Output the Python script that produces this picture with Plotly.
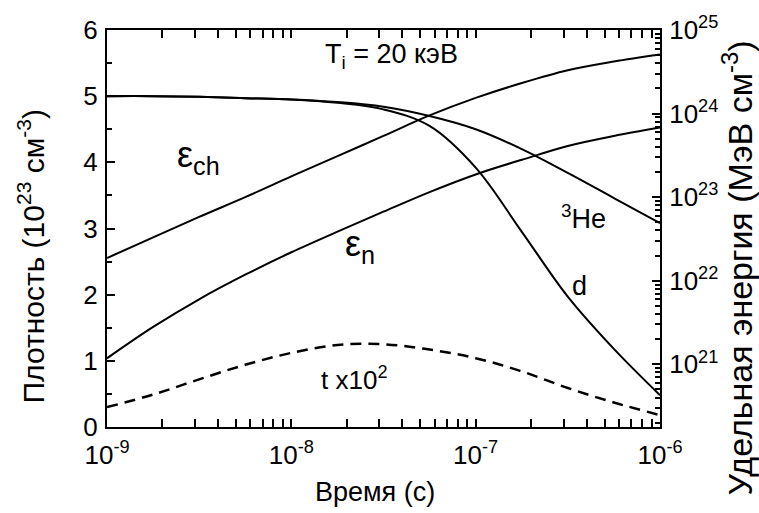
import plotly.graph_objects as go

# Time grid (s), quarter-decade steps
time_s = [1e-9, 1.78e-9, 3.16e-9, 5.62e-9, 1e-8, 1.78e-8, 3.16e-8,
          5.62e-8, 1e-7, 1.78e-7, 3.16e-7, 5.62e-7, 1e-6]

# Densities (10^23 cm^-3)
dens_d = [5.0, 5.0, 4.99, 4.97, 4.95, 4.90, 4.80, 4.55, 3.92, 2.95, 1.97, 1.18, 0.48]
dens_he3 = [5.0, 5.0, 4.99, 4.97, 4.95, 4.91, 4.84, 4.70, 4.50, 4.20, 3.84, 3.46, 3.08]
dens_t_x100 = [0.30, 0.49, 0.72, 0.94, 1.12, 1.24, 1.25, 1.17, 1.04, 0.84, 0.59, 0.37, 0.18]

# Specific energy (MeV cm^-3)
energy_ch = [1.87e22, 3.3e22, 5.8e22, 1.0e23, 1.77e23, 3.1e23, 5.4e23,
             9.5e23, 1.54e24, 2.32e24, 3.3e24, 4.2e24, 5.1e24]
energy_n = [1.18e21, 2.8e21, 6.0e21, 1.18e22, 2.19e22, 3.87e22, 6.7e22,
            1.15e23, 1.87e23, 2.8e23, 4.1e23, 5.4e23, 6.8e23]

x_ticks = [1e-9, 1e-8, 1e-7, 1e-6]
x_ticktext = ["10<sup>-9</sup>", "10<sup>-8</sup>", "10<sup>-7</sup>", "10<sup>-6</sup>"]
y_ticks = [0, 1, 2, 3, 4, 5, 6]
y2_ticks = [1e21, 1e22, 1e23, 1e24, 1e25]
y2_ticktext = ["10<sup>21</sup>", "10<sup>22</sup>", "10<sup>23</sup>",
               "10<sup>24</sup>", "10<sup>25</sup>"]

FONT = "Liberation Sans, Arial, sans-serif"
TICK_SIZE = 26
line = dict(color="black", width=2, shape="spline", smoothing=1.0)

fig = go.Figure()
fig.add_trace(go.Scatter(x=time_s, y=dens_d, mode="lines", line=line))
fig.add_trace(go.Scatter(x=time_s, y=dens_he3, mode="lines", line=line))
fig.add_trace(go.Scatter(x=time_s, y=dens_t_x100, mode="lines",
                         line=dict(line, width=2.5, dash="11px,7px")))
fig.add_trace(go.Scatter(x=time_s, y=energy_ch, mode="lines", line=line, yaxis="y2"))
fig.add_trace(go.Scatter(x=time_s, y=energy_n, mode="lines", line=line, yaxis="y2"))

minor_x = [m * 10.0 ** e for e in range(-9, -6) for m in range(2, 10)]
minor_y = [v + 0.5 for v in y_ticks[:-1]]
minor_y2 = [m * 10.0 ** e for e in range(20, 25) for m in range(2, 10)]

tick_common = dict(ticks="inside", ticklen=8, tickwidth=1.5, tickcolor="black",
                   showline=True, linewidth=2, linecolor="black",
                   showgrid=False, zeroline=False,
                   tickfont=dict(size=TICK_SIZE))
minor_common = dict(tickmode="array", ticks="inside", ticklen=5, tickwidth=1.5,
                    tickcolor="black", showgrid=False)

fig.update_layout(
    width=759, height=513,
    margin=dict(l=107, r=99, t=23, b=86),
    paper_bgcolor="white", plot_bgcolor="white",
    showlegend=False,
    font=dict(family=FONT, size=TICK_SIZE, color="black"),
    xaxis=dict(type="log", range=[-9, -6], tickmode="array",
               tickvals=x_ticks, ticktext=x_ticktext,
               minor=dict(minor_common, tickvals=minor_x),
               ticklabelstandoff=4, mirror="allticks", **tick_common),
    yaxis=dict(range=[0, 6], tickmode="array", tickvals=y_ticks,
               minor=dict(minor_common, tickvals=minor_y),
               ticklabelstandoff=2, **tick_common),
    yaxis2=dict(type="log", range=[20.25, 25], overlaying="y", side="right",
                tickmode="array", tickvals=y2_ticks, ticktext=y2_ticktext,
                minor=dict(minor_common, tickvals=minor_y2),
                ticklabelstandoff=2, **tick_common),
)

def label(x, y, text, size=27, angle=0):
    fig.add_annotation(x=x, y=y, xref="paper", yref="paper", text=text,
                       showarrow=False, textangle=angle,
                       font=dict(family=FONT, size=size, color="black"),
                       xanchor="center", yanchor="middle")

# Axis titles
label(-0.137, 0.43, "Плотность (10<sup>23</sup> см<sup>-3</sup>)", 30, -90)
label(1.14, 0.40, "Удельная энергия (МэВ см<sup>-3</sup>)", 34, -90)
fig.add_annotation(x=0.485, y=0, xref="paper", yref="paper", yshift=-65,
                   text="Время (с)", showarrow=False,
                   font=dict(family=FONT, size=27, color="black"),
                   xanchor="center", yanchor="middle")

# Curve labels
label(0.514, 0.935, "T<sub>i</sub> = 20 кэВ", 27)
label(0.166, 0.68, "ε<sub>ch</sub>", 36)
label(0.458, 0.457, "ε<sub>n</sub>", 36)
label(0.861, 0.53, "<sup>3</sup>He", 27)
label(0.855, 0.356, "d", 27)
label(0.448, 0.121, "t x10<sup>2</sup>", 26)

fig.write_html("out.html")
